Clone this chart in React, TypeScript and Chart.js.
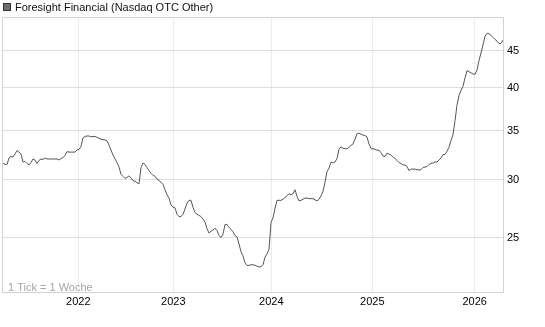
import React, { useEffect, useRef } from "react";
import { Chart, registerables } from "chart.js";

Chart.register(...registerables);

const TITLE = "Foresight Financial (Nasdaq OTC Other)";
const NOTE = "1 Tick = 1 Woche";

// x-axis: weekly ticks (index of week); year gridlines at these week positions
const yearLabels = ["2022", "2023", "2024", "2025", "2026"];
const yearTickWeeks = [37.65, 85.15, 134.15, 184.65, 235.85];

const yTicks = [25, 30, 35, 40, 45];
const yMin = 21;
const yMax = 50;

// weekly closing prices
const prices = [
  31.55, 31.48, 31.45, 32.1, 32.25, 32.2, 32.5, 32.87, 32.7, 32.5,
  31.7, 31.75, 31.55, 31.4, 31.65, 32.0, 31.9, 31.55, 31.85, 32.0,
  31.95, 32.1, 32.0, 32.0, 32.0, 32.0, 32.0, 32.0, 31.9, 32.05,
  32.15, 32.35, 32.75, 32.7, 32.7, 32.7, 32.7, 32.95, 32.95, 33.3,
  34.2, 34.35, 34.4, 34.4, 34.3, 34.35, 34.35, 34.25, 34.15, 34.05,
  34.0, 33.98, 33.88, 33.43, 32.9, 32.4, 32.0, 31.65, 31.2, 30.5,
  30.3, 30.1, 30.2, 30.35, 30.15, 29.9, 29.85, 29.7, 29.6, 31.15,
  31.6, 31.45, 31.15, 30.85, 30.6, 30.4, 30.3, 30.05, 29.9, 29.75,
  29.55, 29.05, 28.6, 28.3, 27.7, 27.5, 27.45, 26.9, 26.7, 26.7,
  26.9, 27.35, 27.85, 28.1, 28.1, 27.5, 27.05, 26.9, 26.8, 26.7,
  26.5, 26.25, 25.7, 25.35, 25.5, 25.6, 25.75, 25.55, 25.15, 25.0,
  25.25, 26.05, 26.05, 25.8, 25.65, 25.45, 25.15, 25.05, 24.5, 23.9,
  23.6, 23.1, 22.9, 22.9, 22.95, 22.95, 22.9, 22.85, 22.8, 22.8,
  22.95, 23.5, 23.75, 24.1, 26.2, 26.6, 27.4, 28.1, 28.1, 28.1,
  28.2, 28.35, 28.5, 28.7, 28.6, 28.7, 29.05, 28.45, 28.05, 28.1,
  28.2, 28.3, 28.3, 28.25, 28.25, 28.25, 28.15, 28.05, 28.2, 28.5,
  28.9, 29.75, 30.75, 31.1, 31.7, 31.6, 31.7, 32.05, 33.0, 33.25,
  33.1, 33.05, 33.05, 33.2, 33.4, 33.55, 34.05, 34.65, 34.7, 34.6,
  34.5, 34.45, 34.3, 33.55, 33.05, 33.05, 33.0, 32.9, 32.9, 32.65,
  32.3, 32.25, 32.6, 32.5, 32.4, 32.2, 32.05, 31.85, 31.65, 31.55,
  31.4, 31.4, 31.25, 30.85, 31.0, 31.0, 31.0, 30.95, 30.9, 30.95,
  31.15, 31.2, 31.25, 31.45, 31.55, 31.6, 31.7, 31.7, 31.9, 32.1,
  32.45, 32.45, 32.8, 33.2, 33.9, 34.55, 36.1, 37.9, 39.05, 39.7,
  40.2, 41.3, 42.25, 42.1, 41.95, 41.8, 41.75, 42.3, 43.6, 44.65,
  45.8, 47.05, 47.5, 47.45, 47.2, 46.9, 46.6, 46.35, 46.0, 46.05,
  46.5,
];

const FONT = "'Liberation Sans', Arial, Helvetica, sans-serif";

const decorPlugin = {
  id: "decor",
  beforeDatasetsDraw(chart: any) {
    const { ctx, chartArea: a } = chart;
    ctx.save();
    ctx.strokeStyle = "#d2d2d2";
    ctx.lineWidth = 1;
    ctx.beginPath();
    ctx.moveTo(a.left - 0.5, a.top + 0.5);
    ctx.lineTo(a.right + 0.5, a.top + 0.5);
    ctx.lineTo(a.right + 0.5, a.bottom - 0.5);
    ctx.lineTo(a.left - 0.5, a.bottom - 0.5);
    ctx.closePath();
    ctx.stroke();
    ctx.restore();
  },
  afterDraw(chart: any) {
    const { ctx, chartArea: a } = chart;
    ctx.save();
    // legend square
    ctx.fillStyle = "#6e6e6e";
    ctx.fillRect(3, 3, 8, 8);
    ctx.strokeStyle = "#333333";
    ctx.lineWidth = 1;
    ctx.strokeRect(3.5, 3.5, 7, 7);
    ctx.fillStyle = "#111111";
    ctx.font = `11px ${FONT}`;
    ctx.textBaseline = "alphabetic";
    ctx.textAlign = "left";
    ctx.fillText(TITLE, 15, 11);
    // note
    ctx.fillStyle = "#a3a6ad";
    ctx.font = `11px ${FONT}`;
    ctx.fillText(NOTE, a.left + 5, a.bottom - 2);
    ctx.restore();
  },
};

export default function App() {
  const ref = useRef<HTMLCanvasElement | null>(null);

  useEffect(() => {
    document.body.style.margin = "0";
    if (!ref.current) return;
    Chart.defaults.font.family = FONT;
    const chart = new Chart(ref.current, {
      type: "line",
      data: {
        datasets: [
          {
            data: prices.map((p, i) => ({ x: i, y: p })),
            borderColor: "#555555",
            borderWidth: 1,
            pointRadius: 0,
            tension: 0,
            fill: false,
          },
        ],
      },
      options: {
        animation: false,
        responsive: false,
        devicePixelRatio: 1,
        layout: { padding: { left: 3, top: 17, right: 0, bottom: 0 } },
        plugins: { legend: { display: false }, tooltip: { enabled: false } },
        scales: {
          x: {
            type: "linear",
            min: 0,
            max: prices.length - 1,
            afterBuildTicks: (s: any) => {
              s.ticks = yearTickWeeks.map((v) => ({ value: v }));
            },
            afterFit: (s: any) => {
              s.height = 34;
            },
            ticks: {
              autoSkip: false,
              maxRotation: 0,
              padding: 2,
              color: "#000000",
              font: { size: 11, family: FONT },
              callback: (_v: any, i: number) => yearLabels[i],
            },
            grid: { color: "#ececec", drawTicks: false },
            border: { display: false },
          },
          y: {
            type: "logarithmic",
            position: "right",
            min: yMin,
            max: yMax,
            afterBuildTicks: (s: any) => {
              s.ticks = yTicks.map((v) => ({ value: v }));
            },
            afterFit: (s: any) => {
              s.width = 42;
            },
            ticks: {
              padding: 4,
              color: "#000000",
              font: { size: 11, family: FONT },
              callback: (v: any) => String(v),
            },
            grid: { color: "#dedede", drawTicks: false },
            border: { display: false },
          },
        },
      },
      plugins: [decorPlugin],
    });
    return () => chart.destroy();
  }, []);

  return (
    <div style={{ position: "fixed", left: 0, top: 0, width: 545, height: 327, background: "#fff" }}>
      <canvas ref={ref} width={545} height={327} style={{ display: "block" }} />
    </div>
  );
}
